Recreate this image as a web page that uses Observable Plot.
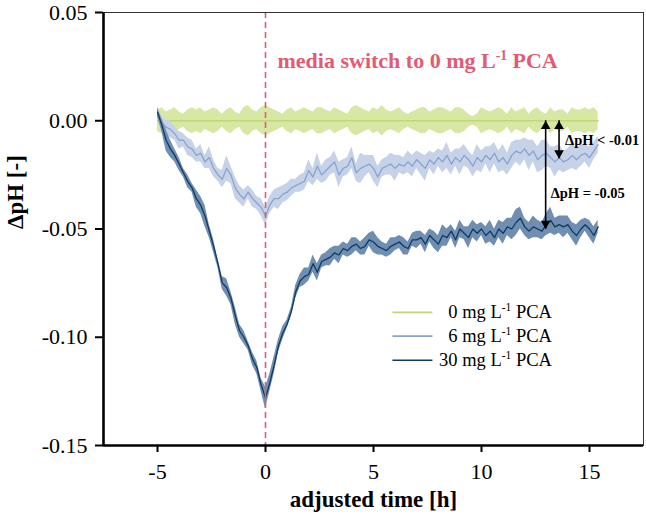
<!DOCTYPE html>
<html><head><meta charset="utf-8">
<script src="https://cdn.jsdelivr.net/npm/d3@7"></script>
<script src="https://cdn.jsdelivr.net/npm/@observablehq/plot@0.6"></script>
<style>
html,body{margin:0;padding:0;background:#fff;}
#chart svg{display:block;}
</style></head><body><div id="chart"></div>
<script>
// time grid (h): first sample and sampling step
const tStart = -5.0, tStep = 0.2;

// 0 mg L-1 PCA (mean and half band width)
const pca0 = [
  0,0,0,0,0,0,0,0,0,0,
  0,0,0,0,0,0,0,0,0,0,
  0,0,0,0,0,0,0,0,0,0,
  0,0,0,0,0,0,0,0,0,0,
  0,0,0,0,0,0,0,0,0,0,
  0,0,0,0,0,0,0,0,0,0,
  0,0,0,0,0,0,0,0,0,0,
  0,0,0,0,0,0,0,0,0,0,
  0,0,0,0,0,0,0,0,0,0,
  0,0,0,0,0,0,0,0,0,0,
  0,0,0];
const pca0Err = [
  0.005,0.006,0.004,0.005,0.006,0.004,0.003,0.005,0.006,0.005,
  0.006,0.004,0.005,0.006,0.005,0.003,0.005,0.006,0.004,0.003,
  0.006,0.007,0.005,0.004,0.006,0.007,0.006,0.005,0.004,0.003,
  0.005,0.006,0.004,0.005,0.006,0.005,0.004,0.006,0.006,0.005,
  0.004,0.006,0.005,0.004,0.003,0.006,0.007,0.006,0.005,0.004,
  0.006,0.005,0.007,0.005,0.004,0.005,0.006,0.004,0.003,0.004,
  0.005,0.006,0.006,0.004,0.005,0.006,0.006,0.005,0.004,0.006,
  0.006,0.005,0.003,0.002,0.003,0.006,0.005,0.004,0.005,0.006,
  0.005,0.003,0.006,0.004,0.005,0.006,0.003,0.005,0.006,0.004,
  0.003,0.006,0.004,0.005,0.005,0.003,0.006,0.005,0.005,0.006,
  0.005,0.006,0.004];

// 6 mg L-1 PCA
const pca6 = [
  0.004,-0.001,-0.003,-0.004,-0.006,-0.009,-0.009,-0.012,-0.013,-0.016,
  -0.015,-0.019,-0.017,-0.022,-0.025,-0.027,-0.022,-0.025,-0.031,-0.034,
  -0.036,-0.033,-0.036,-0.038,-0.040,-0.044,-0.039,-0.036,-0.036,-0.034,
  -0.033,-0.031,-0.030,-0.029,-0.028,-0.023,-0.026,-0.021,-0.025,-0.023,
  -0.021,-0.019,-0.025,-0.022,-0.021,-0.017,-0.024,-0.022,-0.021,-0.020,
  -0.022,-0.026,-0.022,-0.021,-0.020,-0.022,-0.020,-0.021,-0.019,-0.021,
  -0.018,-0.020,-0.022,-0.018,-0.020,-0.017,-0.019,-0.016,-0.020,-0.017,
  -0.019,-0.016,-0.018,-0.021,-0.017,-0.019,-0.016,-0.018,-0.015,-0.019,
  -0.017,-0.020,-0.016,-0.014,-0.015,-0.013,-0.016,-0.014,-0.018,-0.016,
  -0.015,-0.017,-0.019,-0.017,-0.019,-0.018,-0.016,-0.018,-0.016,-0.015,
  -0.017,-0.014,-0.011];
const pca6Err = [
  0.002,0.003,0.003,0.004,0.003,0.004,0.003,0.004,0.004,0.003,
  0.004,0.003,0.005,0.004,0.003,0.004,0.006,0.004,0.005,0.004,
  0.004,0.003,0.004,0.003,0.004,0.004,0.004,0.004,0.005,0.004,
  0.004,0.004,0.003,0.004,0.004,0.005,0.004,0.006,0.004,0.005,
  0.004,0.005,0.006,0.004,0.004,0.005,0.004,0.007,0.005,0.004,
  0.006,0.005,0.004,0.004,0.005,0.006,0.004,0.004,0.005,0.005,
  0.004,0.005,0.006,0.004,0.005,0.004,0.005,0.006,0.005,0.004,
  0.006,0.005,0.004,0.005,0.006,0.005,0.004,0.006,0.005,0.005,
  0.006,0.005,0.006,0.005,0.006,0.005,0.007,0.005,0.006,0.007,
  0.006,0.005,0.007,0.006,0.005,0.005,0.006,0.005,0.005,0.004,
  0.005,0.004,0.004];

// 30 mg L-1 PCA
const pca30 = [
  0.004,-0.002,-0.009,-0.013,-0.016,-0.020,-0.024,-0.028,-0.031,-0.036,
  -0.039,-0.044,-0.051,-0.058,-0.066,-0.075,-0.077,-0.082,-0.090,-0.097,
  -0.100,-0.104,-0.110,-0.114,-0.122,-0.128,-0.121,-0.113,-0.104,-0.098,
  -0.094,-0.088,-0.079,-0.074,-0.072,-0.071,-0.066,-0.070,-0.065,-0.064,
  -0.063,-0.061,-0.062,-0.059,-0.060,-0.058,-0.057,-0.059,-0.058,-0.055,
  -0.056,-0.058,-0.059,-0.060,-0.058,-0.057,-0.056,-0.058,-0.059,-0.055,
  -0.055,-0.054,-0.057,-0.053,-0.055,-0.057,-0.053,-0.054,-0.051,-0.055,
  -0.050,-0.052,-0.054,-0.050,-0.052,-0.050,-0.053,-0.051,-0.054,-0.050,
  -0.052,-0.049,-0.050,-0.047,-0.045,-0.049,-0.051,-0.049,-0.050,-0.051,
  -0.048,-0.046,-0.049,-0.048,-0.049,-0.048,-0.051,-0.053,-0.050,-0.048,
  -0.050,-0.053,-0.049];
const pca30Err = [
  0.002,0.003,0.005,0.004,0.003,0.003,0.002,0.003,0.002,0.004,
  0.004,0.005,0.003,0.003,0.002,0.003,0.004,0.003,0.004,0.003,
  0.003,0.002,0.003,0.003,0.003,0.005,0.004,0.004,0.003,0.003,
  0.002,0.002,0.003,0.003,0.004,0.003,0.004,0.004,0.003,0.003,
  0.004,0.003,0.004,0.003,0.003,0.004,0.003,0.003,0.004,0.003,
  0.005,0.004,0.003,0.003,0.004,0.003,0.003,0.004,0.003,0.003,
  0.004,0.003,0.004,0.003,0.004,0.004,0.005,0.004,0.003,0.004,
  0.004,0.003,0.005,0.004,0.004,0.003,0.004,0.005,0.004,0.004,
  0.005,0.004,0.005,0.006,0.005,0.004,0.004,0.005,0.004,0.004,
  0.005,0.006,0.004,0.004,0.005,0.004,0.004,0.005,0.004,0.003,
  0.004,0.004,0.003];

const seriesNames = ["0 mg L-1 PCA", "6 mg L-1 PCA", "30 mg L-1 PCA"];
const seriesMeans = [pca0, pca6, pca30];
const seriesErrs = [pca0Err, pca6Err, pca30Err];
const lineColors = ["#c0d874", "#8aa2cd", "#0f3a62"];
const bandColors = ["#d7e7a4", "#c5d2e8", "#6f8eb1"];

const xTicks = [-5, 0, 5, 10, 15];
const yTicks = [-0.15, -0.10, -0.05, 0, 0.05];
const xDomain = [-7.5, 17.5];
const yDomain = [-0.15, 0.05];

const switchTime = [0];
const titleText = "media switch to 0 mg L-1 PCA";
const xLabel = "adjusted time [h]";
const yLabel = "ΔpH [-]";

// annotation arrows: drop from the 0 mg line
const arrows = [
  {x: 12.97, from: 0, to: -0.05, label: "ΔpH = -0.05", labelY: -0.0336},
  {x: 13.59, from: 0, to: -0.0175, label: "ΔpH < -0.01", labelY: -0.0092}
];

// legend placement (data units)
const legendLine = [5.9, 7.75];
const legendTextX = 13.26;
const legendRowsY = [-0.0885, -0.0995, -0.1106];

const serif = "'Liberation Serif','Times New Roman',Times,serif";

const rows = seriesMeans.map((m, k) => m.map((v, i) => ({
  t: tStart + i * tStep, v, lo: v - seriesErrs[k][i], hi: v + seriesErrs[k][i]
})));

const legendData = seriesNames.map((name, k) => ({name, k, y: legendRowsY[k]}));

const bandMarks = [];
rows.forEach((r, k) => {
  bandMarks.push(Plot.areaY(r, {x: "t", y1: "lo", y2: "hi", fill: bandColors[k], curve: "linear"}));
  bandMarks.push(Plot.lineY(r, {x: "t", y: "v", stroke: lineColors[k], strokeWidth: k === 0 ? 1.6 : 1.3}));
});

const plot = Plot.plot({
  width: 646, height: 521,
  marginLeft: 103, marginRight: 3, marginTop: 12, marginBottom: 76,
  style: {fontFamily: serif, fontSize: "22px", color: "#000", background: "#fff"},
  x: {domain: xDomain},
  y: {domain: yDomain},
  marks: [
    ...bandMarks,
    Plot.ruleX(switchTime, {stroke: "#e35a76", strokeWidth: 1.6, strokeDasharray: "6,4"}),
    Plot.frame({stroke: "#333", strokeWidth: 1}),
    Plot.ruleX([xDomain[0]], {stroke: "#000", strokeWidth: 2.6}),
    Plot.ruleY([yDomain[0]], {stroke: "#000", strokeWidth: 2.6}),
    Plot.axisX({ticks: xTicks, tickSize: 7, tickPadding: 11, strokeWidth: 2, label: null, tickFormat: d => String(d), fontSize: 22, fontFamily: serif}),
    Plot.axisY({ticks: yTicks, tickSize: 8, tickPadding: 8, strokeWidth: 2, label: null, tickFormat: d => d.toFixed(2), fontSize: 22, fontFamily: serif}),
    // axis titles
    Plot.text([xLabel], {frameAnchor: "bottom", dy: 61, text: d => d, fontWeight: "bold", fontSize: 23, fontFamily: serif}),
    Plot.text([yLabel], {frameAnchor: "left", dx: -88, rotate: -90, text: d => d, fontWeight: "bold", fontSize: 23, fontFamily: serif}),
    // media switch annotation
    Plot.text([titleText], {x: switchTime[0], frameAnchor: "top", dy: 40, dx: 12, textAnchor: "start", text: d => d, fill: "#e35a72", fontWeight: "bold", fontSize: 22, fontFamily: serif}),
    // arrows
    Plot.ruleX(arrows, {x: "x", y1: "from", y2: "to", stroke: "#000", strokeWidth: 1.6}),
    Plot.dot(arrows, {x: "x", y: "from", symbol: "triangle", r: 3.6, fill: "#000", stroke: null, dy: 5.5}),
    Plot.dot(arrows, {x: "x", y: "to", symbol: "triangle", r: 3.6, fill: "#000", stroke: null, dy: -5.5, rotate: 180}),
    Plot.text(arrows.slice(0, 1), {x: "x", y: "labelY", text: "label", textAnchor: "start", dx: 5, fontWeight: "bold", fontSize: 14.5, fontFamily: serif}),
    Plot.text(arrows.slice(1, 2), {x: "x", y: "labelY", text: "label", textAnchor: "start", dx: 6, fontWeight: "bold", fontSize: 14.5, fontFamily: serif}),
    // legend
    Plot.ruleY(legendData, {y: "y", x1: legendLine[0], x2: legendLine[1], stroke: d => lineColors[d.k], strokeWidth: 1.6}),
    Plot.text(legendData, {y: "y", x: legendTextX, text: "name", textAnchor: "end", fontSize: 18.5, fontFamily: serif})
  ]
});

document.getElementById("chart").appendChild(plot);

// superscript "-1" in "L-1"
d3.select(plot).selectAll("text").each(function () {
  const el = this;
  if (el.querySelector("tspan")) return;
  const s = el.textContent;
  const idx = s.indexOf("L-1");
  if (idx < 0) return;
  const fs = parseFloat(getComputedStyle(el).fontSize) || 16;
  const shift = fs * 0.38;
  el.textContent = "";
  const sel = d3.select(el);
  sel.append("tspan").text(s.slice(0, idx + 1));
  sel.append("tspan").attr("dy", -shift).attr("font-size", fs * 0.62).text("-1");
  sel.append("tspan").attr("dy", shift).text(s.slice(idx + 3));
});
</script>
</body></html>
